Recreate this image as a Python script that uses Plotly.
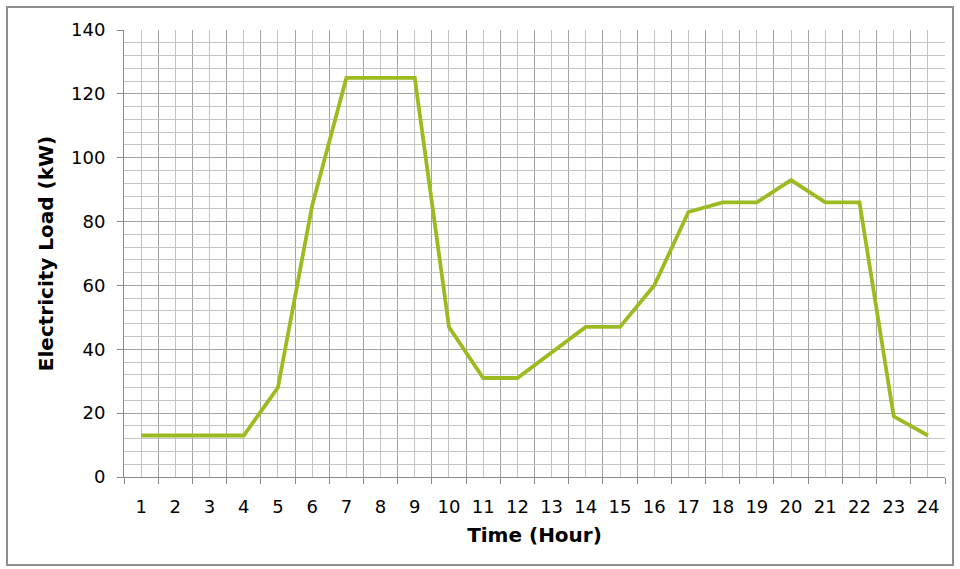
import plotly.graph_objects as go

# Hourly electricity load profile
hours = list(range(1, 25))
load_kw = [13, 13, 13, 13, 28, 85, 125, 125, 125, 47, 31, 31,
           39, 47, 47, 60, 83, 86, 86, 93, 86, 86, 19, 13]
y_ticks = [0, 20, 40, 60, 80, 100, 120, 140]

W, H = 960, 569
L, R, T, B = 124, 945, 30, 477  # plot area in pixels

fig = go.Figure()
fig.add_trace(go.Scatter(
    x=hours, y=load_kw, mode="lines",
    line=dict(color="#9CBB20", width=3.8),
    hoverinfo="x+y", showlegend=False,
))

font = "DejaVu Sans, Verdana, sans-serif"
major_grid = "#A3A3A3"
minor_grid = "#C4C4C4"

fig.update_xaxes(
    range=[0.5, 24.5],
    tickvals=hours, ticktext=[str(h) for h in hours],
    ticks="", showgrid=True, gridcolor=minor_grid, gridwidth=1,
    minor=dict(tickvals=[h + 0.5 for h in [0] + hours], ticks="outside",
               ticklen=6, tickcolor="#8C8C8C", showgrid=True,
               gridcolor=major_grid, gridwidth=1),
    showline=True, linecolor="#8C8C8C", linewidth=1,
    zeroline=False,
    tickfont=dict(family=font, size=18, color="#000"),
    ticklabelstandoff=13,
    title=dict(text="<b>Time (Hour)</b>", font=dict(family=font, size=20, color="#000"),
               standoff=12),
)
fig.update_yaxes(
    range=[0, 140], tickvals=y_ticks,
    ticks="outside", ticklen=6, tickcolor="#8C8C8C",
    showgrid=True, gridcolor=major_grid, gridwidth=1,
    minor=dict(dtick=4, showgrid=True, gridcolor=minor_grid, gridwidth=1, ticks=""),
    showline=True, linecolor="#8C8C8C", linewidth=1,
    zeroline=False,
    tickfont=dict(family=font, size=18, color="#000"),
    ticklabelstandoff=8,
    title=dict(text="<b>Electricity Load (kW)</b>", font=dict(family=font, size=20, color="#000"),
               standoff=12),
)

# Outer chart border
pw, ph = R - L, B - T
def px_x(x):
    return (x - L) / pw
def px_y(y):
    return (B - y) / ph
fig.add_shape(type="rect", xref="paper", yref="paper",
              x0=px_x(7), x1=px_x(953), y0=px_y(565), y1=px_y(7),
              line=dict(color="#8F8F8F", width=2), fillcolor="rgba(0,0,0,0)",
              layer="below")

fig.update_layout(
    width=W, height=H,
    margin=dict(l=L, r=W - R, t=T, b=H - B),
    paper_bgcolor="white", plot_bgcolor="white",
)

fig.write_html("out.html")
